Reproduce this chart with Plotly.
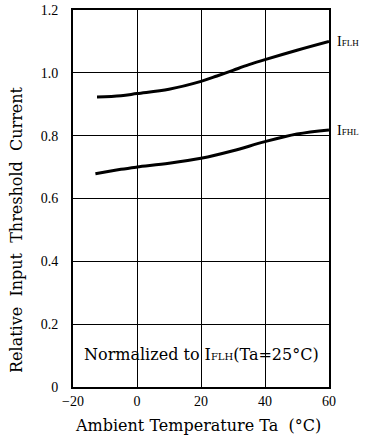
import plotly.graph_objects as go

# Data
temp_flh = [-12.5, -5, 0, 10, 20, 25, 30, 35, 40, 50, 60]
rel_flh = [0.923, 0.927, 0.934, 0.948, 0.973, 0.990, 1.008, 1.026, 1.042, 1.072, 1.100]

temp_fhl = [-13, -5, 0, 10, 20, 30, 40, 50, 60]
rel_fhl = [0.679, 0.693, 0.700, 0.712, 0.728, 0.752, 0.781, 0.805, 0.818]

x_ticks = [-20, 0, 20, 40, 60]
x_tick_labels = ["\u221220", "0", "20", "40", "60"]
y_ticks = [0, 0.2, 0.4, 0.6, 0.8, 1.0, 1.2]
y_tick_labels = ["0", "0.2", "0.4", "0.6", "0.8", "1.0", "1.2"]

TICKFONT = "Liberation Serif"
FONT = "DejaVu Serif"
NB = "\u00a0"

W, H = 367, 440
L, R, T, B = 73, 38, 10, 53
PW = W - L - R
PH = H - T - B


def sub(s, size):
    return "<span style='font-size:%dpx'>%s</span>" % (size, s)


fig = go.Figure()
fig.add_trace(go.Scatter(x=temp_flh, y=rel_flh, mode="lines",
                         line=dict(color="black", width=3, shape="spline", smoothing=1.0),
                         showlegend=False, hoverinfo="skip"))
fig.add_trace(go.Scatter(x=temp_fhl, y=rel_fhl, mode="lines",
                         line=dict(color="black", width=3, shape="spline", smoothing=1.0),
                         showlegend=False, hoverinfo="skip"))

annotations = [
    dict(x=1.023, xref="paper", y=rel_flh[-1], yref="y",
         text="I" + sub("FLH", 9), showarrow=False, xanchor="left", yanchor="middle",
         font=dict(family=TICKFONT, size=14, color="black")),
    dict(x=1.023, xref="paper", y=rel_fhl[-1], yref="y",
         text="I" + sub("FHL", 9), showarrow=False, xanchor="left", yanchor="middle",
         font=dict(family=TICKFONT, size=14, color="black")),
    dict(x=20, y=0.105, xref="x", yref="y",
         text="Normalized" + NB + "to" + NB + "I" + sub("FLH", 10) + "(Ta=25°C)",
         showarrow=False, xanchor="center", yanchor="middle",
         font=dict(family=FONT, size=16, color="black")),
    dict(x=(198 - L) / PW, xref="paper", y=-(425 - (H - B)) / PH, yref="paper",
         text="Ambient" + NB + "Temperature" + NB + "Ta" + NB * 2 + "(°C)",
         showarrow=False, xanchor="center", yanchor="middle",
         font=dict(family=FONT, size=16, color="black")),
    dict(x=-(L - 16) / PW, xref="paper", y=(H - B - 230) / PH, yref="paper",
         text="Relative" + NB * 2 + "Input" + NB * 2 + "Threshold" + NB * 2 + "Current",
         textangle=-90, showarrow=False, xanchor="center", yanchor="middle",
         font=dict(family=FONT, size=16, color="black")),
]

fig.update_layout(
    width=W, height=H,
    margin=dict(l=L, r=R, t=T, b=B),
    paper_bgcolor="white", plot_bgcolor="white",
    font=dict(family=TICKFONT, color="black", size=14),
    annotations=annotations,
)
fig.update_xaxes(range=[-20, 60], tickvals=x_ticks, ticktext=x_tick_labels,
                 showgrid=True, gridcolor="black", gridwidth=1,
                 showline=True, linecolor="black", linewidth=2, mirror=True,
                 zeroline=False, ticks="", ticklen=0, automargin=False,
                 tickfont=dict(family=TICKFONT, size=14))
fig.update_yaxes(range=[0, 1.2], tickvals=y_ticks, ticktext=y_tick_labels,
                 showgrid=True, gridcolor="black", gridwidth=1,
                 showline=True, linecolor="black", linewidth=2, mirror=True,
                 zeroline=False, ticks="", ticklen=0, automargin=False,
                 ticklabelstandoff=10,
                 tickfont=dict(family=TICKFONT, size=14))

fig.write_html("out.html",
               config={"displayModeBar": False},
               post_script="document.body.style.margin='0';document.body.style.padding='0';")
